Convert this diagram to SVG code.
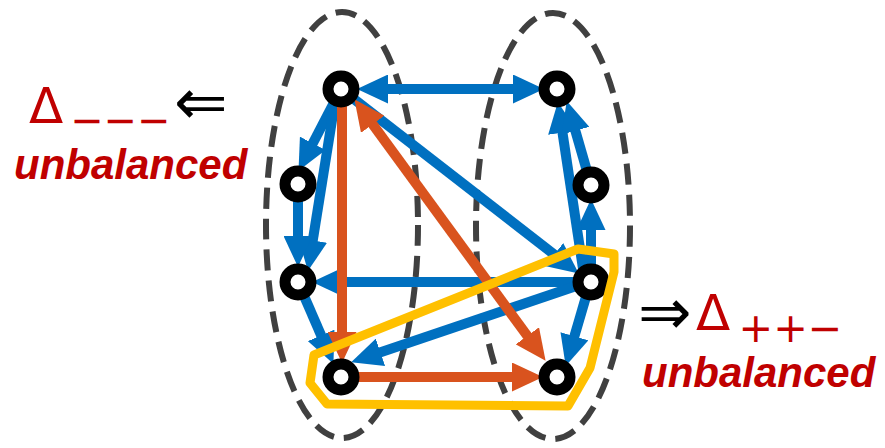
<svg xmlns="http://www.w3.org/2000/svg" width="885" height="448" viewBox="0 0 885 448">
<style>
.grp{fill:none;stroke:#404040;stroke-width:6;stroke-dasharray:21 10}
.b{stroke:#0070C0;stroke-width:10;fill:none}
.o{stroke:#D9531E;stroke-width:10;fill:none}
.bh{marker-end:url(#ab)}
.oh{marker-end:url(#ao)}
.node circle{fill:#fff;stroke:#000;stroke-width:11}
.red{fill:#C00000}
.sym{font-family:"DejaVu Sans",sans-serif}
.lab{font-family:"Liberation Sans",Arial,sans-serif;font-weight:bold;font-style:italic;font-size:42px;fill:#C00000}
</style>
<defs>
<marker id="ab" markerUnits="userSpaceOnUse" markerWidth="31" markerHeight="29" refX="10" refY="14.5" orient="auto-start-reverse" viewBox="0 0 31 29"><path d="M0,0 L31,14.5 L0,29 Z" fill="#0070C0"/></marker>
<marker id="ao" markerUnits="userSpaceOnUse" markerWidth="31" markerHeight="29" refX="10" refY="14.5" orient="auto-start-reverse" viewBox="0 0 31 29"><path d="M0,0 L31,14.5 L0,29 Z" fill="#D9531E"/></marker>
</defs>
<g id="groups">
<ellipse class="grp" cx="342" cy="225" rx="76" ry="213"/>
<ellipse class="grp" cx="553" cy="226" rx="77" ry="213"/>
</g>
<g id="connectors">
<line class="b bh" x1="378" y1="89" x2="523" y2="89" marker-start="url(#ab)"/>
<line class="b bh" x1="341" y1="89" x2="308.2" y2="152.2"/>
<line class="b bh" x1="337" y1="89" x2="311.2" y2="250.3"/>
<line class="b bh" x1="298" y1="184" x2="298" y2="246"/>
<line class="b bh" x1="298" y1="282" x2="325.1" y2="344.6"/>
<line class="b bh" x1="591" y1="282" x2="333" y2="282"/>
<line class="b bh" x1="591" y1="281" x2="371" y2="355.6"/>
<line class="b bh" x1="341" y1="89" x2="562.2" y2="260.7"/>
<line class="b bh" x1="591" y1="282" x2="591" y2="220"/>
<line class="b bh" x1="585" y1="282" x2="561" y2="122.8"/>
<line class="b bh" x1="591" y1="185" x2="572.6" y2="121.2"/>
<line class="b bh" x1="590" y1="283" x2="571.6" y2="345.8"/>
<line class="o oh" x1="342" y1="89" x2="342" y2="342"/>
<line class="o oh" x1="366.8" y1="116.2" x2="533.2" y2="343.9" marker-start="url(#ao)"/>
<line class="o oh" x1="341" y1="377" x2="522" y2="377"/>
</g>
<g id="nodes">
<g id="A" class="node"><circle cx="341" cy="89" r="13"/></g>
<g id="B" class="node"><circle cx="298" cy="184" r="13"/></g>
<g id="C" class="node"><circle cx="298" cy="282" r="13"/></g>
<g id="D" class="node"><circle cx="341" cy="377" r="13"/></g>
<g id="E" class="node"><circle cx="557" cy="89" r="13"/></g>
<g id="F" class="node"><circle cx="591" cy="185" r="13"/></g>
<g id="G" class="node"><circle cx="591" cy="282" r="13"/></g>
<g id="H" class="node"><circle cx="557" cy="377" r="13"/></g>
</g>
<g id="triad">
<polygon points="314,355 310,383 327,404 568,406 590,368 614,272 614,254 578,249" fill="none" stroke="#FFC000" stroke-width="9" stroke-linejoin="round"/>
</g>
<g id="label-left">
<text class="sym red" x="29" y="123" font-size="50">Δ</text>
<text class="sym red" x="70.5" y="134" font-size="40" textLength="100" lengthAdjust="spacingAndGlyphs">−−−</text>
<text class="sym" x="174" y="124" font-size="64" fill="#000">⇐</text>
<text class="lab" x="14" y="179">unbalanced</text>
</g>
<g id="label-right">
<text class="sym" x="638" y="334" font-size="64" fill="#000">⇒</text>
<text class="sym red" x="696" y="330" font-size="50">Δ</text>
<text class="sym red" x="738.5" y="342" font-size="40" textLength="104" lengthAdjust="spacingAndGlyphs">++−</text>
<text class="lab" x="642" y="387">unbalanced</text>
</g>
</svg>
